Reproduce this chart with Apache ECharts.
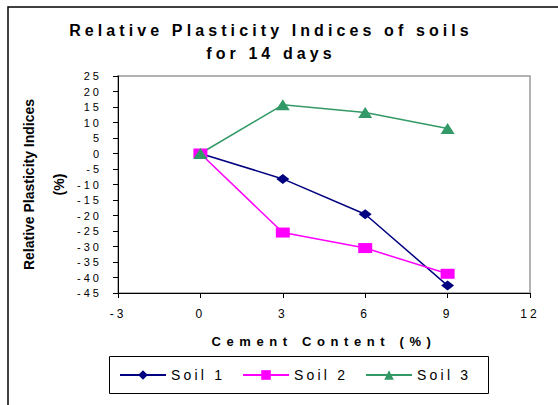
<!DOCTYPE html>
<html>
<head>
<meta charset="utf-8">
<script src="https://cdn.jsdelivr.net/npm/echarts@6/dist/echarts.min.js"></script>
<style>
html,body{margin:0;padding:0;background:#fff;}
#c{width:558px;height:405px;}
</style>
</head>
<body>
<div id="c"></div>
<script>
var cementContent = [0, 3, 6, 9];
var soil1 = [0, -8.2, -19.6, -42.6];
var soil2 = [0, -25.5, -30.5, -38.8];
var soil3 = [0, 15.7, 13.2, 8.1];
var seriesNames = ['Soil 1', 'Soil 2', 'Soil 3'];
var titleText = 'Relative Plasticity Indices of soils\nfor 14 days';
var xName = 'Cement Content (%)';
var yName = 'Relative Plasticity Indices\n(%)';

function pairs(xs, ys) { return xs.map(function (x, i) { return [x, ys[i]]; }); }

var FONT = "'Liberation Sans', Arial, sans-serif";
var chart = echarts.init(document.getElementById('c'), null, { renderer: 'svg' });
chart.setOption({
  animation: false,
  backgroundColor: '#fff',
  title: {
    text: titleText, left: 266, top: 14, textAlign: 'center',
    textStyle: { fontFamily: FONT, fontSize: 16, fontWeight: 'bold', color: '#000', lineHeight: 23 }
  },
  grid: { left: 118, right: 28, top: 76, bottom: 112, show: true, borderColor: '#999', borderWidth: 1.5, backgroundColor: '#fff' },
  graphic: [
    { type: 'rect', shape: { x: 8, y: 7, width: 560, height: 410 }, style: { fill: 'none', stroke: '#000', lineWidth: 1.5 }, z: 0, silent: true },
    { type: 'rect', shape: { x: 109.5, y: 356.5, width: 379, height: 37 }, style: { fill: '#fff', stroke: '#000', lineWidth: 1 }, z: 0, silent: true }
  ],
  xAxis: {
    type: 'value', min: -3, max: 12, interval: 3,
    name: xName, nameLocation: 'middle', nameGap: 42,
    nameTextStyle: { fontFamily: FONT, fontSize: 13, fontWeight: 'bold', color: '#000' },
    axisLine: { onZero: false, lineStyle: { color: '#000', width: 1 } },
    axisTick: { show: true, inside: false, length: 5, lineStyle: { color: '#000' } },
    axisLabel: { fontFamily: FONT, fontSize: 12, color: '#000', margin: 15 },
    splitLine: { show: false }
  },
  yAxis: {
    type: 'value', min: -45, max: 25, interval: 5,
    name: yName, nameLocation: 'middle', nameGap: 44,
    nameTextStyle: { fontFamily: FONT, fontSize: 14, fontWeight: 'bold', color: '#000', lineHeight: 30 },
    axisLine: { onZero: false, lineStyle: { color: '#000', width: 1 } },
    axisTick: { show: true, inside: false, length: 5, lineStyle: { color: '#000' } },
    axisLabel: { fontFamily: FONT, fontSize: 11, color: '#000', margin: 16 },
    splitLine: { show: false }
  },
  legend: {
    left: 119, top: 368, padding: 0, itemWidth: 46, itemHeight: 12, itemGap: 36,
    textStyle: { fontFamily: FONT, fontSize: 14, color: '#000' },
    data: seriesNames
  },
  series: [
    { name: seriesNames[0], type: 'line', data: pairs(cementContent, soil1), symbol: 'diamond', symbolSize: [13, 10],
      lineStyle: { color: '#000080', width: 1.5 }, itemStyle: { color: '#000080' } },
    { name: seriesNames[1], type: 'line', data: pairs(cementContent, soil2), symbol: 'rect', symbolSize: [14, 10],
      lineStyle: { color: '#FF00FF', width: 1.5 }, itemStyle: { color: '#FF00FF' } },
    { name: seriesNames[2], type: 'line', data: pairs(cementContent, soil3), symbol: 'triangle', symbolSize: [14, 11],
      lineStyle: { color: '#339966', width: 1.5 }, itemStyle: { color: '#339966' } }
  ]
});

function spaceText() {
  var texts = document.querySelectorAll('#c text');
  texts.forEach(function (t) {
    var s = t.textContent;
    var ls = 0;
    if (s === 'Relative Plasticity Indices of soils' || s === 'for 14 days') ls = 4.1;
    else if (s === xName) ls = 5.6;
    else if (seriesNames.indexOf(s) >= 0) ls = 3.2;
    else if (/^-?\d+$/.test(s)) ls = 3;
    if (ls) t.setAttribute('letter-spacing', ls + 'px');
  });
}
spaceText();
chart.on('finished', spaceText);
</script>
</body>
</html>
